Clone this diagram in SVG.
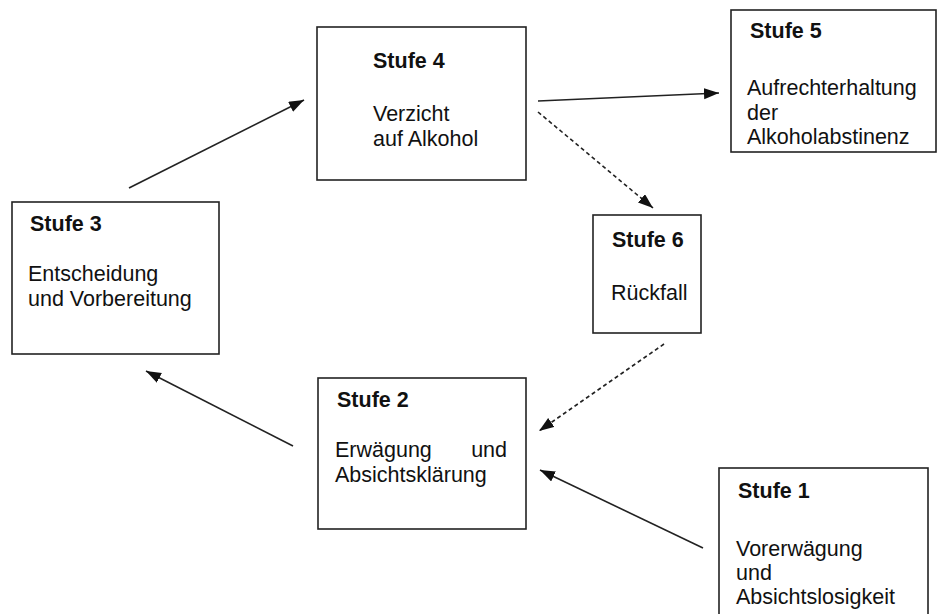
<svg xmlns="http://www.w3.org/2000/svg" width="938" height="614" viewBox="0 0 938 614">
<style>
.box{fill:#fff;stroke:#222;stroke-width:1.6}
.t{font-family:"Liberation Sans",Arial,sans-serif;font-size:21.5px;fill:#111}
.b{font-weight:bold}
.c{stroke:#222;stroke-width:1.6;fill:none}
.d{stroke-dasharray:4 3}
</style>
<defs>
<marker id="ah" markerUnits="userSpaceOnUse" markerWidth="16" markerHeight="12" refX="15" refY="5.5" orient="auto">
<path d="M0,0 L15,5.5 L0,11 z" fill="#111"/>
</marker>
</defs>
<rect width="938" height="614" fill="#fff"/>
<g id="stufe4">
<rect class="box" x="317" y="27" width="209" height="153"/>
<text class="t b" x="373" y="68">Stufe 4</text>
<text class="t" x="373" y="121">Verzicht</text>
<text class="t" x="373" y="146">auf Alkohol</text>
</g>
<g id="stufe5">
<rect class="box" x="731" y="10" width="205" height="142"/>
<text class="t b" x="750" y="38">Stufe 5</text>
<text class="t" x="747" y="95">Aufrechterhaltung</text>
<text class="t" x="747" y="120">der</text>
<text class="t" x="747" y="144">Alkoholabstinenz</text>
</g>
<g id="stufe3">
<rect class="box" x="12" y="202" width="207" height="152"/>
<text class="t b" x="30" y="231">Stufe 3</text>
<text class="t" x="28" y="281">Entscheidung</text>
<text class="t" x="28" y="306">und Vorbereitung</text>
</g>
<g id="stufe6">
<rect class="box" x="593" y="215" width="108" height="118"/>
<text class="t b" x="612" y="247">Stufe 6</text>
<text class="t" x="611" y="300">Rückfall</text>
</g>
<g id="stufe2">
<rect class="box" x="318" y="378" width="208" height="151"/>
<text class="t b" x="337" y="407">Stufe 2</text>
<text class="t" x="335" y="457">Erwägung</text>
<text class="t" x="507" y="457" text-anchor="end">und</text>
<text class="t" x="335" y="482">Absichtsklärung</text>
</g>
<g id="stufe1">
<rect class="box" x="719" y="468" width="209" height="160"/>
<text class="t b" x="738" y="498">Stufe 1</text>
<text class="t" x="736" y="556">Vorerwägung</text>
<text class="t" x="736" y="580">und</text>
<text class="t" x="736" y="604">Absichtslosigkeit</text>
</g>
<g id="connectors">
<line class="c" x1="129" y1="188" x2="304" y2="100" marker-end="url(#ah)"/>
<line class="c" x1="538" y1="101" x2="719" y2="93" marker-end="url(#ah)"/>
<line class="c d" x1="538" y1="112" x2="653" y2="208" marker-end="url(#ah)"/>
<line class="c d" x1="664" y1="344" x2="539" y2="431" marker-end="url(#ah)"/>
<line class="c" x1="703" y1="548" x2="540" y2="470" marker-end="url(#ah)"/>
<line class="c" x1="293" y1="446" x2="146" y2="371" marker-end="url(#ah)"/>
</g>
</svg>
